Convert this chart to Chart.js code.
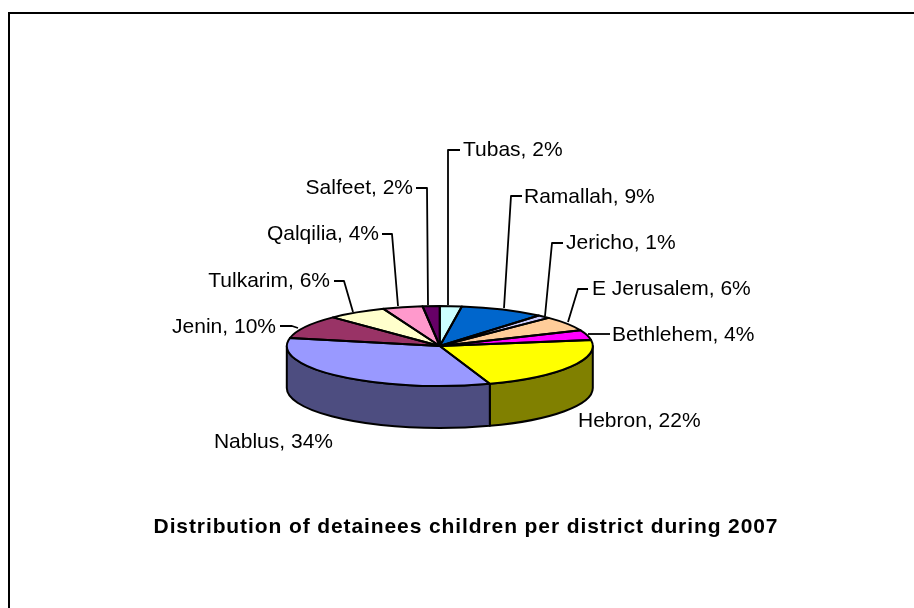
<!DOCTYPE html>
<html>
<head>
<meta charset="utf-8">
<style>html,body{margin:0;padding:0;background:#fff}canvas{display:block}</style>
<script src="https://cdn.jsdelivr.net/npm/chart.js@4"></script>
</head>
<body>
<canvas id="c" width="914" height="608"></canvas>
<script>
const districts = ["Tubas","Ramallah","Jericho","E Jerusalem","Bethlehem","Hebron","Nablus","Jenin","Tulkarim","Qalqilia","Salfeet"];
const shares = [2.3,8.9,1.4,6.0,4.0,22.1,33.5,9.5,6.3,4.2,1.8];
const topColors = ["#CCFFFF","#0066CC","#CCCCFF","#FFCC99","#FF00FF","#FFFF00","#9999FF","#993366","#FFFFCC","#FF99CC","#660066"];
const wallColors = ["#668080","#003366","#666680","#80664D","#800080","#808000","#4D4D80","#4D1A33","#808066","#804D66","#330033"];
const chartTitle = "Distribution of detainees children per district during 2007";

// layout only
const PIE = {x:439.8, y:346, rx:153, ry:40, depth:42};
const LABEL_FONT = '21px "Liberation Sans", Arial, sans-serif';
const labelLayout = [
 {pts:[[448,305],[448,150],[460,150]], tx:463, ty:150, align:"left"},
 {pts:[[504,308],[511,196],[522,196]], tx:524, ty:197, align:"left"},
 {pts:[[545,316],[552,243],[563,243]], tx:566, ty:243, align:"left"},
 {pts:[[568,322],[578,289],[588,289]], tx:592, ty:289, align:"left"},
 {pts:[[588,334],[610,334]], tx:612, ty:335, align:"left"},
 {pts:[], tx:578, ty:421, align:"left"},
 {pts:[], tx:333, ty:442, align:"right"},
 {pts:[[298,328],[292,326],[280,326]], tx:276, ty:327, align:"right"},
 {pts:[[353,312],[344,281],[334,281]], tx:330, ty:281, align:"right"},
 {pts:[[398,306],[392,234],[382,234]], tx:379, ty:234, align:"right"},
 {pts:[[428,305],[427,188],[416,188]], tx:413, ty:188, align:"right"}
];

const pie3d = {
  id:"pie3d",
  beforeDraw(chart){
    const c = chart.ctx;
    c.save();
    c.strokeStyle="#000"; c.lineWidth=2;
    c.beginPath(); c.moveTo(9,608); c.lineTo(9,13); c.lineTo(914,13); c.stroke();
    c.restore();
    c.letterSpacing="0.9px"; // picked up by the title box
  },
  beforeDatasetsDraw(chart){
    const c = chart.ctx, arcs = chart.getDatasetMeta(0).data;
    c.letterSpacing="0px";
    c.save();
    c.lineWidth=2; c.strokeStyle="#000"; c.lineJoin="round";
    arcs.forEach((a,i)=>{
      // visible wall = part of the slice on the front half (canvas angles 0..PI)
      const from=Math.max(a.startAngle,0), to=Math.min(a.endAngle,Math.PI);
      if(to<=from) return;
      c.beginPath();
      c.ellipse(PIE.x,PIE.y,PIE.rx,PIE.ry,0,from,to,false);
      c.ellipse(PIE.x,PIE.y+PIE.depth,PIE.rx,PIE.ry,0,to,from,true);
      c.closePath();
      c.fillStyle=wallColors[i];
      c.fill(); c.stroke();
    });
    c.restore();
    const a0=arcs[0];
    c.save();
    c.translate(PIE.x,PIE.y);
    c.scale(PIE.rx/a0.outerRadius,PIE.ry/a0.outerRadius);
    c.translate(-a0.x,-a0.y);
  },
  afterDatasetsDraw(chart){
    const c = chart.ctx, arcs = chart.getDatasetMeta(0).data;
    c.restore();
    c.save();
    c.lineWidth=2; c.strokeStyle="#000"; c.lineJoin="round";
    arcs.forEach(a=>{
      c.beginPath();
      c.moveTo(PIE.x,PIE.y);
      c.ellipse(PIE.x,PIE.y,PIE.rx,PIE.ry,0,a.startAngle,a.endAngle,false);
      c.closePath();
      c.stroke();
    });
    c.lineWidth=1.8;
    c.font=LABEL_FONT; c.fillStyle="#000"; c.textBaseline="middle";
    const total=shares.reduce((p,v)=>p+v,0);
    districts.forEach((d,i)=>{
      const L=labelLayout[i];
      if(L.pts.length){
        c.beginPath();
        L.pts.forEach((p,k)=>k?c.lineTo(p[0],p[1]):c.moveTo(p[0],p[1]));
        c.stroke();
      }
      c.textAlign=L.align;
      c.fillText(d+", "+Math.round(shares[i]/total*100)+"%",L.tx,L.ty);
    });
    c.restore();
  }
};

new Chart(document.getElementById("c"),{
  type:"pie",
  data:{labels:districts,datasets:[{data:shares,backgroundColor:topColors,borderWidth:0,clip:false}]},
  options:{
    responsive:false,animation:false,
    layout:{padding:{left:18,right:0,top:0,bottom:0}},
    plugins:{
      legend:{display:false},tooltip:{enabled:false},
      title:{display:true,position:"bottom",text:chartTitle,color:"#000",
        font:{family:'"Liberation Sans", Arial, sans-serif',size:21,weight:"bold"},
        padding:{top:10,bottom:68.5}}
    }
  },
  plugins:[pie3d]
});
</script>
</body>
</html>
